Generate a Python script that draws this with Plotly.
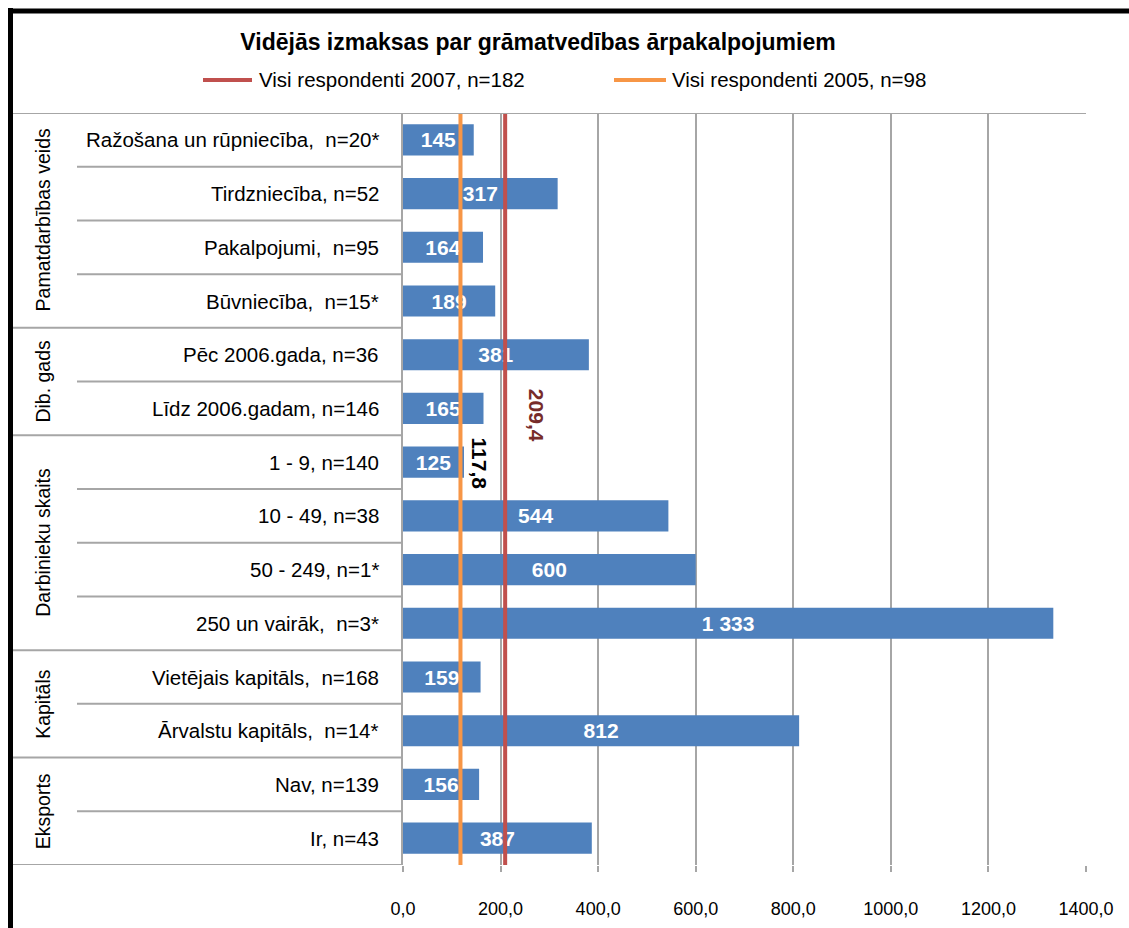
import plotly.graph_objects as go

# ---------------- data ----------------
title_text = "Vidējās izmaksas par grāmatvedības ārpakalpojumiem"
categories = [
    "Ražošana un rūpniecība,  n=20*",
    "Tirdzniecība, n=52",
    "Pakalpojumi,  n=95",
    "Būvniecība,  n=15*",
    "Pēc 2006.gada, n=36",
    "Līdz 2006.gadam, n=146",
    "1 - 9, n=140",
    "10 - 49, n=38",
    "50 - 249, n=1*",
    "250 un vairāk,  n=3*",
    "Vietējais kapitāls,  n=168",
    "Ārvalstu kapitāls,  n=14*",
    "Nav, n=139",
    "Ir, n=43",
]
values = [145, 317, 164, 189, 381, 165, 125, 544, 600, 1333, 159, 812, 156, 387]
groups = ["Pamatdarbības veids", "Dib. gads", "Darbinieku skaits", "Kapitāls", "Eksports"]
group_sizes = [4, 2, 4, 2, 2]
ref_names = ["Visi respondenti 2007, n=182", "Visi respondenti 2005, n=98"]
ref_values = [209.4, 117.8]
ref_labels = ["209,4", "117,8"]
x_tickvals = [0, 200, 400, 600, 800, 1000, 1200, 1400]
x_ticktext = ["0,0", "200,0", "400,0", "600,0", "800,0", "1000,0", "1200,0", "1400,0"]

# ---------------- style ----------------
W, H = 1129, 928
L, R, T, B = 403, 1086, 113, 865
FONT = "Liberation Sans, Arial, sans-serif"
BAR = "#4F81BD"
REF_COLORS = ["#C0504D", "#F79646"]
REF_TEXT_COLORS = ["#772C2A", "#000000"]
REF_XSHIFT = [31, 20]
REF_TEXT_Y = [415, 464]
GRID = "#A6A6A6"


def px(x):
    return (x - L) / (R - L)


def py(y):
    return (B - y) / (B - T)


def fmt(v):
    return f"{v:,}".replace(",", " ")


fig = go.Figure()
fig.add_trace(go.Bar(
    y=categories, x=values, orientation="h",
    marker=dict(color=BAR, line=dict(width=0)),
    width=0.58,
    text=[fmt(v) for v in values],
    textposition="inside", insidetextanchor="middle",
    constraintext="none",
    textfont=dict(family=FONT, size=21, color="white", weight="bold"),
    showlegend=False, hoverinfo="skip",
))

for name, v, c in zip(ref_names, ref_values, REF_COLORS):
    fig.add_trace(go.Scatter(
        x=[v, v], y=[0, 1], yaxis="y2", mode="lines",
        line=dict(color=c, width=4), name=name, showlegend=False,
        hoverinfo="skip",
    ))

shapes = []
annotations = []

# outer border (left and top, thick black)
shapes.append(dict(type="line", xref="paper", yref="paper",
                   x0=px(8), x1=px(1140), y0=py(11), y1=py(11),
                   line=dict(color="black", width=5)))
shapes.append(dict(type="line", xref="paper", yref="paper",
                   x0=px(10.5), x1=px(10.5), y0=py(8), y1=py(940),
                   line=dict(color="black", width=5)))

# top line across the whole plot
shapes.append(dict(type="line", xref="paper", yref="y",
                   x0=px(13), x1=1, y0=-0.5, y1=-0.5,
                   line=dict(color=GRID, width=2)))

# row separators in label area
boundaries = set()
acc = 0
for s in group_sizes:
    acc += s
    boundaries.add(acc)
for i in range(1, len(categories) + 1):
    x0 = px(13) if i in boundaries else px(77)
    shapes.append(dict(type="line", xref="paper", yref="y",
                       x0=x0, x1=0, y0=i - 0.5, y1=i - 0.5,
                       line=dict(color=GRID, width=2)))

# category labels
for c in categories:
    annotations.append(dict(text=c, xref="paper", yref="y", x=px(381), y=c,
                            xanchor="right", yanchor="middle", showarrow=False,
                            font=dict(family=FONT, size=20.5, color="black")))

# group labels
start = 0
for g, s in zip(groups, group_sizes):
    annotations.append(dict(text=g, xref="paper", yref="y", x=px(43),
                            y=start + (s - 1) / 2, textangle=-90,
                            xanchor="center", yanchor="middle", showarrow=False,
                            font=dict(family=FONT, size=19.5, color="black")))
    start += s

# reference value labels
for lab, v, col, xs, ty in zip(ref_labels, ref_values, REF_TEXT_COLORS, REF_XSHIFT, REF_TEXT_Y):
    annotations.append(dict(text=lab, xref="x", yref="paper", x=v, y=py(ty),
                            xshift=xs, textangle=90, showarrow=False,
                            xanchor="center", yanchor="middle",
                            font=dict(family=FONT, size=21, color=col, weight="bold")))

# manual legend
leg_line_x = [(203, 252), (614, 666)]
leg_text_x = [257, 670]
for name, c, (a, b), tx in zip(ref_names, REF_COLORS, leg_line_x, leg_text_x):
    shapes.append(dict(type="line", xref="paper", yref="paper",
                       x0=px(a), x1=px(b), y0=py(80), y1=py(80),
                       line=dict(color=c, width=4)))
    annotations.append(dict(text=name, xref="paper", yref="paper", x=px(tx), y=py(80),
                            xanchor="left", yanchor="middle", showarrow=False,
                            font=dict(family=FONT, size=20.5, color="black")))

fig.update_layout(
    width=W, height=H,
    margin=dict(l=L, r=W - R, t=T, b=H - B, pad=0, autoexpand=False),
    paper_bgcolor="white", plot_bgcolor="white",
    font=dict(family=FONT, size=20, color="black"),
    separators=", ",
    title=dict(text="<b>" + title_text + "</b>", x=538 / W, xanchor="center",
               y=1 - 42 / H, yanchor="middle", yref="container",
               font=dict(family=FONT, size=23, color="black")),
    xaxis=dict(range=[0, 1400], tickvals=x_tickvals, ticktext=x_ticktext,
               showgrid=True, gridcolor=GRID, gridwidth=2,
               ticks="outside", ticklen=6, tickcolor=GRID, tickwidth=2,
               zeroline=False, showline=False, ticklabelstandoff=21,
               automargin=False,
               tickfont=dict(family=FONT, size=18, color="black")),
    yaxis=dict(type="category", categoryorder="array", categoryarray=categories,
               range=[len(categories) - 0.5, -0.5], showticklabels=False,
               showgrid=False, zeroline=False, showline=True, automargin=False,
               linecolor=GRID, linewidth=2, ticks=""),
    yaxis2=dict(overlaying="y", range=[0, 1], visible=False, showgrid=False),
    shapes=shapes, annotations=annotations,
    showlegend=False,
)

fig.write_html(
    "out.html",
    config={"displayModeBar": False},
    post_script="document.body.style.margin='0';document.body.style.overflow='hidden';",
)
